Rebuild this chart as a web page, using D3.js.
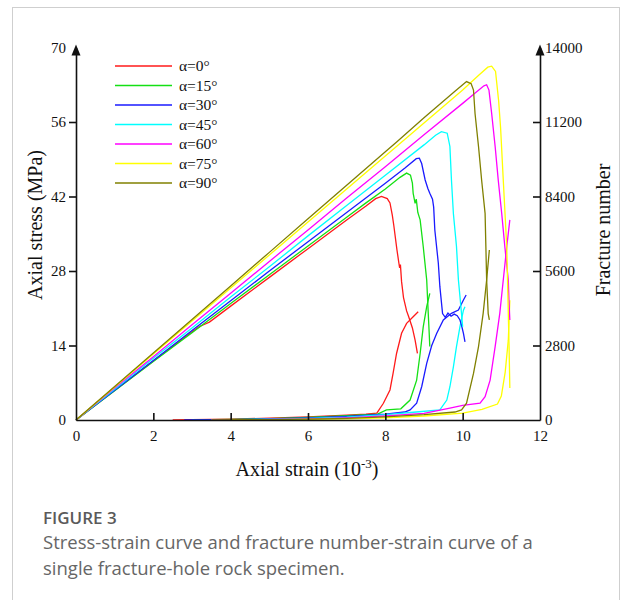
<!DOCTYPE html>
<html>
<head>
<meta charset="utf-8">
<script src="https://cdn.jsdelivr.net/npm/d3@7"></script>
<style>
  body { margin: 0; background: #fff; }
  svg { display: block; }
  .tick text { font-family: "Liberation Serif", "Times New Roman", serif; font-size: 15px; fill: #111; }
</style>
</head>
<body>
<svg id="chart" width="624" height="600"></svg>
<script>
// series labels + colours
const angles = [0, 15, 30, 45, 60, 75, 90];
const colors = ["#ff1a1a", "#14e014", "#1a1aff", "#00ffff", "#ff00ff", "#ffff00", "#808000"];

// stress-strain curves: [strain (1e-3), stress (MPa)]
const stress0 = [[0,0],[1,5.6],[2,11.1],[3,16.6],[3.2,17.6],[3.3,17.9],[3.45,18.4],[4,21.4],[5,26.8],[6,32.2],[7,37.6],[7.5,40.2],[7.75,41.6],[7.9,42.0],[8.05,41.6],[8.12,40.8],[8.18,38.5],[8.22,36.5],[8.3,32],[8.35,29.5],[8.37,28.6],[8.39,29.2],[8.42,26],[8.47,23],[8.55,20.5],[8.6,19.5],[8.7,17.3],[8.77,15],[8.83,12.5]];
const stress15 = [[0,0],[1,5.5],[2,11],[3,16.4],[4,21.9],[5,27.3],[6,32.7],[7,38.1],[7.5,40.8],[8,43.4],[8.38,45.6],[8.55,46.4],[8.65,46],[8.7,44.5],[8.72,42.6],[8.77,40.7],[8.8,41.5],[8.84,39],[8.9,37.6],[8.98,32.6],[9.07,26.3],[9.11,20],[9.13,17],[9.15,13.8]];
const stress30 = [[0,0],[1,5.6],[2,11.2],[3,16.8],[4,22.4],[5,28],[6,33.5],[7,39],[8,44.5],[8.5,47.3],[8.8,49.1],[8.88,49.2],[8.94,48.2],[9.03,45.1],[9.1,43.5],[9.15,42.6],[9.22,41.5],[9.25,40],[9.28,35.7],[9.37,29.5],[9.41,25.1],[9.48,20],[9.55,19.3],[9.62,20.1],[9.7,19.5],[9.78,19.9],[9.86,19.6],[9.93,18.8],[9.97,17.8],[10.02,16.3],[10.06,14.7]];
const stress45 = [[0,0],[1,5.8],[2,11.6],[3,17.3],[4,23.1],[5,28.8],[6,34.6],[7,40.3],[8,46],[9,51.7],[9.3,53.5],[9.45,54.2],[9.6,53.9],[9.67,51.4],[9.71,45.1],[9.76,38.8],[9.84,32.6],[9.89,26.3],[9.93,23.2],[9.97,20],[10.0,17.5]];
const stress60 = [[0,0],[1,6],[2,11.9],[3,17.9],[4,23.8],[5,29.8],[6,35.7],[7,41.7],[8,47.6],[9,53.6],[10,59.5],[10.3,61.3],[10.55,62.8],[10.62,63],[10.68,62],[10.75,57.6],[10.84,51.4],[10.92,45.1],[11.01,38.8],[11.09,32.6],[11.18,26.3],[11.2,22],[11.22,18.8]];
const stress75 = [[0,0],[1,6.2],[2,12.4],[3,18.6],[4,24.8],[5,31],[6,37.2],[7,43.4],[8,49.6],[9,55.8],[10,62],[10.4,64.7],[10.65,66.3],[10.75,66.5],[10.85,65.5],[10.93,60],[10.98,55],[11.05,45.1],[11.14,32.6],[11.18,20],[11.2,13.8],[11.22,6]];
const stress90 = [[0,0],[1,6.3],[2,12.6],[3,18.9],[4,25.2],[5,31.5],[6,37.8],[7,44.1],[8,50.4],[8.3,52.3],[9,56.8],[9.8,61.8],[10.1,63.6],[10.22,63.2],[10.28,62],[10.32,57.6],[10.41,51.4],[10.49,45.1],[10.58,38.8],[10.6,32.6],[10.62,26.3],[10.66,20],[10.69,18.8]];

// fracture number-strain curves: [strain (1e-3), fracture number]
const frac0 = [[2.5,0],[4,30],[5,70],[6,120],[7,180],[7.5,220],[7.78,260],[7.95,630],[8.12,1130],[8.2,1750],[8.29,2500],[8.42,3260],[8.55,3630],[8.72,3880],[8.85,4070]];
const frac15 = [[3,0],[4,20],[5,50],[6,100],[7,160],[7.8,220],[8.03,380],[8.4,420],[8.64,750],[8.81,1500],[8.9,2500],[8.98,3500],[9.07,4260],[9.15,4760]];
const frac30 = [[2.8,0],[4,15],[5,40],[6,80],[7,140],[8,220],[8.5,300],[8.64,380],[8.81,630],[8.94,1250],[9.07,2130],[9.2,2800],[9.33,3260],[9.5,3760],[9.71,4010],[9.89,4130],[10.02,4510],[10.09,4700]];
const frac45 = [[3.5,0],[5,30],[6,60],[7,110],[8,200],[8.8,300],[9.41,380],[9.59,750],[9.67,1250],[9.76,2000],[9.84,2760],[9.93,3510],[10.02,4130],[10.06,4260]];
const frac60 = [[3.5,0],[5,20],[6,40],[7,80],[8,150],[9,250],[9.67,450],[10,550],[10.45,630],[10.58,880],[10.71,1500],[10.84,2760],[10.96,4010],[11.05,5260],[11.14,6510],[11.22,7520]];
const frac75 = [[4,0],[6,20],[7,40],[8,80],[9,150],[10,260],[10.5,400],[10.9,600],[11.0,900],[11.1,1800],[11.18,3000],[11.22,4500]];
const frac90 = [[3.5,0],[5,15],[6,30],[7,60],[8,120],[9,200],[9.8,300],[9.97,380],[10.1,630],[10.28,1750],[10.41,2760],[10.53,4010],[10.62,5260],[10.69,6390]];

const stressSeries = [stress0, stress15, stress30, stress45, stress60, stress75, stress90];
const fracSeries = [frac0, frac15, frac30, frac45, frac60, frac75, frac90];

const xTicks = [0, 2, 4, 6, 8, 10, 12];
const yTicks = [0, 14, 28, 42, 56, 70];
const yRTicks = [0, 2800, 5600, 8400, 11200, 14000];

const svg = d3.select("#chart");
const serif = '"Liberation Serif", "Times New Roman", serif';

// card border
svg.append("rect")
  .attr("x", 12.5).attr("y", 7.5)
  .attr("width", 607).attr("height", 640)
  .attr("fill", "none").attr("stroke", "#cfcfcf");

const x = d3.scaleLinear().domain([0, 12]).range([76, 540]);
const y = d3.scaleLinear().domain([0, 70]).range([420, 47.5]);
const yR = d3.scaleLinear().domain([0, 14000]).range([420, 47.5]);

const line = d3.line().x(d => x(d[0])).y(d => y(d[1]));
const lineR = d3.line().x(d => x(d[0])).y(d => yR(d[1]));

const plot = svg.append("g");
fracSeries.forEach((s, i) => {
  plot.append("path").attr("d", lineR(s))
    .attr("fill", "none").attr("stroke", colors[i]).attr("stroke-width", 1.3);
});
stressSeries.forEach((s, i) => {
  plot.append("path").attr("d", line(s))
    .attr("fill", "none").attr("stroke", colors[i]).attr("stroke-width", 1.3);
});

// axes
const gx = svg.append("g").attr("transform", "translate(0,420)")
  .call(d3.axisBottom(x).tickValues(xTicks).tickSize(-7).tickSizeOuter(0).tickPadding(10));
const gy = svg.append("g").attr("transform", "translate(76,0)")
  .call(d3.axisLeft(y).tickValues(yTicks).tickSize(7).tickSizeOuter(0).tickPadding(3));
const gyR = svg.append("g").attr("transform", "translate(540,0)")
  .call(d3.axisRight(yR).tickValues(yRTicks).tickFormat(d3.format("d")).tickSize(-7).tickSizeOuter(0).tickPadding(5));

[gx, gy, gyR].forEach(g => {
  g.selectAll(".domain").attr("stroke", "#111").attr("stroke-width", 1.6);
  g.selectAll(".tick line").attr("stroke", "#111").attr("stroke-width", 1.6);
});
// no tick lines at the ends
gy.selectAll(".tick line").filter(d => d === 0 || d === 70).remove();
gyR.selectAll(".tick line").filter(d => d === 0 || d === 14000).remove();
gx.selectAll(".tick line").filter(d => d === 0 || d === 12).remove();

// arrow heads on the vertical axes
[76, 540].forEach(ax => {
  const top = y(70);
  svg.append("path")
    .attr("d", `M${ax},${top - 3}L${ax - 4.5},${top + 8}L${ax + 4.5},${top + 8}Z`)
    .attr("fill", "#111");
});

// axis titles
const xt = svg.append("text")
  .attr("x", 307).attr("y", 476)
  .attr("text-anchor", "middle")
  .attr("font-family", serif).attr("font-size", 20).attr("fill", "#111");
xt.append("tspan").text("Axial strain (10");
xt.append("tspan").attr("font-size", 13).attr("dy", -8).text("-3");
xt.append("tspan").attr("dy", 8).text(")");

svg.append("text")
  .attr("transform", "translate(42,225) rotate(-90)")
  .attr("text-anchor", "middle")
  .attr("font-family", serif).attr("font-size", 20).attr("fill", "#111")
  .text("Axial stress (MPa)");

svg.append("text")
  .attr("transform", "translate(610,230) rotate(-90)")
  .attr("text-anchor", "middle")
  .attr("font-family", serif).attr("font-size", 20).attr("fill", "#111")
  .text("Fracture number");

// legend
const legend = svg.append("g");
angles.forEach((a, i) => {
  const ly = 66 + i * 19.5;
  legend.append("line")
    .attr("x1", 115).attr("x2", 172).attr("y1", ly).attr("y2", ly)
    .attr("stroke", colors[i]).attr("stroke-width", 1.5);
  legend.append("text")
    .attr("x", 179).attr("y", ly + 5)
    .attr("font-family", serif).attr("font-size", 15.5).attr("fill", "#111")
    .text("α=" + a + "°");
});

// caption
const sans = '"Open Sans", Lato, sans-serif';
svg.append("text")
  .attr("x", 43).attr("y", 524)
  .attr("font-family", sans).attr("font-size", 17).attr("font-weight", 600).attr("fill", "#5a5a5a")
  .text("FIGURE 3");
svg.append("text")
  .attr("x", 43).attr("y", 549)
  .attr("font-family", sans).attr("font-size", 18.5).attr("fill", "#666")
  .text("Stress-strain curve and fracture number-strain curve of a");
svg.append("text")
  .attr("x", 43).attr("y", 575)
  .attr("font-family", sans).attr("font-size", 18.5).attr("fill", "#666")
  .text("single fracture-hole rock specimen.");
</script>
</body>
</html>
